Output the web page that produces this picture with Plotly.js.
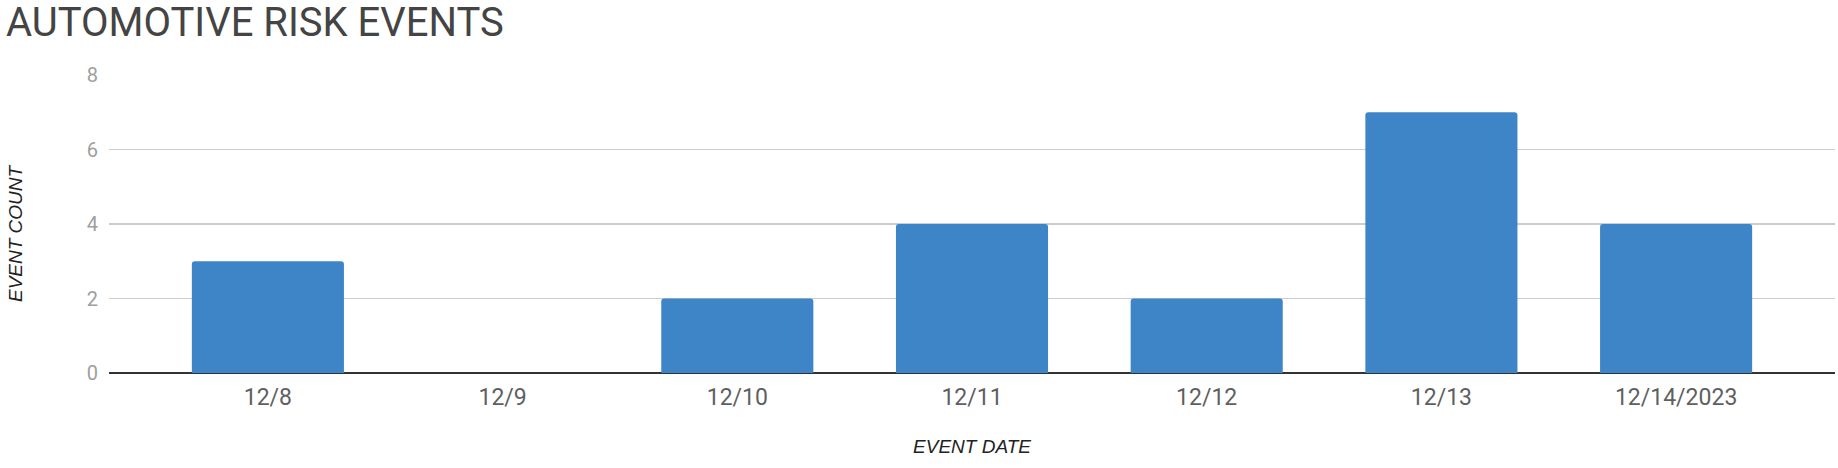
<!DOCTYPE html>
<html>
<head>
<meta charset="utf-8">
<script src="https://cdn.plot.ly/plotly-3.0.1.min.js"></script>
<style>
html, body { margin: 0; padding: 0; background: #fff; }
#chart { width: 1838px; height: 468px; }
</style>
</head>
<body>
<div id="chart"></div>
<script>
const categories = ["12/8", "12/9", "12/10", "12/11", "12/12", "12/13", "12/14/2023"];
const eventCounts = [3, 0, 2, 4, 2, 7, 4];
const yTickValues = [0, 2, 4, 6, 8];

const trace = {
  type: "bar",
  x: categories,
  y: eventCounts,
  width: 0.648,
  marker: { color: "#3e85c7", cornerradius: 3 },
  hoverinfo: "x+y"
};

const layout = {
  width: 1838,
  height: 468,
  paper_bgcolor: "#ffffff",
  plot_bgcolor: "#ffffff",
  margin: { l: 109, r: 3, t: 75, b: 95 },
  showlegend: false,
  title: {
    text: "AUTOMOTIVE RISK EVENTS",
    font: { family: "Roboto", size: 40, color: "#444444" },
    x: 6 / 1838, xref: "container", xanchor: "left",
    y: 1 - 8 / 468, yref: "container", yanchor: "top",
    pad: { t: 0, l: 0 }
  },
  xaxis: {
    type: "category",
    range: [-0.677, 6.677],
    showgrid: false,
    showline: false,
    zeroline: false,
    ticks: "",
    tickfont: { family: "Roboto", size: 23, color: "#5f5f5f" },
    ticklabelstandoff: 8,
    title: {
      text: "EVENT DATE",
      font: { family: "Liberation Sans", size: 19, color: "#222222", style: "italic" },
      standoff: 29
    },
    automargin: false
  },
  yaxis: {
    range: [0, 8],
    tickvals: yTickValues,
    showgrid: true,
    gridcolor: "#cccccc",
    gridwidth: 1.5,
    zeroline: true,
    zerolinecolor: "#333333",
    zerolinewidth: 2,
    showline: false,
    ticks: "",
    tickfont: { family: "Roboto", size: 20, color: "#9e9e9e" },
    ticklabelstandoff: 10,
    automargin: false,
    fixedrange: true
  },
  annotations: [{
    text: "EVENT COUNT",
    textangle: -90,
    xref: "paper", yref: "paper",
    x: (15 - 109) / 1726, y: (373 - 233) / 298,
    xanchor: "center", yanchor: "middle",
    showarrow: false,
    font: { family: "Liberation Sans", size: 19, color: "#222222", style: "italic" }
  }]
};

Plotly.newPlot("chart", [trace], layout, { displayModeBar: false, staticPlot: true });
</script>
</body>
</html>
